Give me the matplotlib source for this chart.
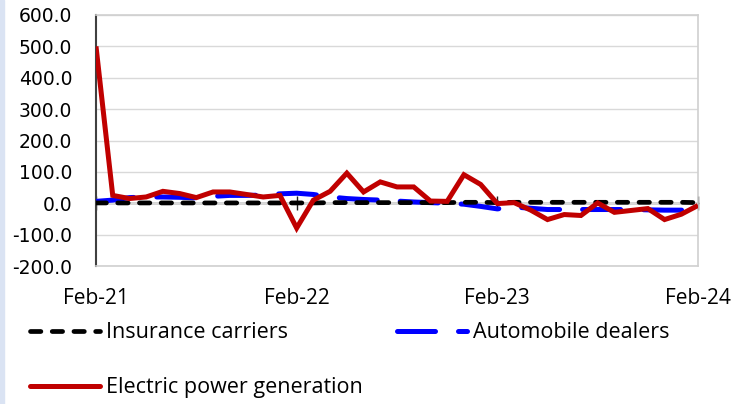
import matplotlib
matplotlib.use("Agg")
import matplotlib.pyplot as plt
from matplotlib.lines import Line2D
import numpy as np

# monthly values, Feb-21 .. Feb-24
months = ["Feb-21", "Mar-21", "Apr-21", "May-21", "Jun-21", "Jul-21", "Aug-21", "Sep-21",
          "Oct-21", "Nov-21", "Dec-21", "Jan-22", "Feb-22", "Mar-22", "Apr-22", "May-22",
          "Jun-22", "Jul-22", "Aug-22", "Sep-22", "Oct-22", "Nov-22", "Dec-22", "Jan-23",
          "Feb-23", "Mar-23", "Apr-23", "May-23", "Jun-23", "Jul-23", "Aug-23", "Sep-23",
          "Oct-23", "Nov-23", "Dec-23", "Jan-24", "Feb-24"]

insurance = [1, 1, 1, 1, 1, 1, 1, 1, 1, 1, 1, 1, 1, 1, 2, 2,
             2, 2, 2, 2, 2, 2, 3, 3, 2, 3, 3, 3, 3, 3, 3, 3,
             3, 3, 3, 3, 2]
auto_dealers = [6, 10, 18, 20, 20, 19, 17, 22, 25, 25, 26, 30, 32, 28, 20, 15,
                12, 10, 7, 4, 2, 0, -3, -10, -18, -12, -16, -20, -20, -20, -20, -20,
                -20, -21, -22, -22, -18]
electric = [500, 25, 15, 20, 38, 31, 18, 36, 36, 28, 20, 25, -79, 10, 38, 96,
            36, 68, 52, 52, 7, 6, 91, 60, -1, 2, -22, -52, -36, -39, 1, -29,
            -23, -17, -52, -35, -7]

tick_pos = [0, 12, 24, 36]
tick_labels = ["Feb-21", "Feb-22", "Feb-23", "Feb-24"]
y_ticks = [-200, -100, 0, 100, 200, 300, 400, 500, 600]

x = np.arange(len(months))

fig = plt.figure(figsize=(7.47, 4.04), dpi=100)
fig.patch.set_facecolor("white")
# light blue strip at left edge of the picture
fig.patches.append(plt.Rectangle((0, 0), 4 / 747, 1, transform=fig.transFigure,
                                 color="#dae3f3", zorder=0))

ax = fig.add_axes([96 / 747, 1 - 266 / 404, (698 - 96) / 747, (266 - 15) / 404])

ins_style = dict(color="black", lw=3.4, linestyle=(0, (2.2, 2.4)), dash_capstyle="round")
auto_style = dict(color="#0000ff", lw=3.6, linestyle=(0, (7.6, 4.6)), dash_capstyle="round")
elec_style = dict(color="#c00000", lw=3.6, solid_capstyle="butt", solid_joinstyle="miter")

ax.plot(x, auto_dealers, zorder=3, **auto_style)
ax.plot(x, insurance, zorder=4, **ins_style)
ax.plot(x, electric, zorder=5, **elec_style)

ax.set_xlim(0, 36)
ax.set_ylim(-200, 600)
ax.set_yticks(y_ticks)
ax.set_yticklabels([f"{v:.1f}" for v in y_ticks], fontsize=13.5, family="DejaVu Sans")
ax.tick_params(axis="y", length=0, pad=17)
ax.grid(axis="y", color="#d9d9d9", lw=1)
ax.set_axisbelow(True)

ax.set_xticks(tick_pos)
ax.set_xticklabels(tick_labels, fontsize=15, family="Open Sans")
ax.tick_params(axis="x", length=0, pad=16)

for side in ("top", "right", "bottom"):
    ax.spines[side].set_color("#d0d0d0")
    ax.spines[side].set_linewidth(1.2)
ax.spines["left"].set_color("#404040")
ax.spines["left"].set_linewidth(1.5)

# horizontal axis line crossing at zero, with cross tick marks
zero_ax = ax.secondary_xaxis(0.25)
zero_ax.set_xticks(tick_pos)
zero_ax.set_xticklabels([])
zero_ax.tick_params(axis="x", direction="inout", length=10, width=1, color="#202020")
zero_ax.spines["bottom"].set_color("#202020")
zero_ax.spines["bottom"].set_linewidth(1)

# legend entries, placed like the Excel layout
h_ins = Line2D([], [], **ins_style)
h_auto = Line2D([], [], **auto_style)
h_elec = Line2D([], [], color="#c00000", lw=3.6, solid_capstyle="round")
entries = [(h_ins, "Insurance carriers", 30, 333),
           (h_auto, "Automobile dealers", 397, 333),
           (h_elec, "Electric power generation", 30, 388)]
for h, lab, px, py in entries:
    fig.legend([h], [lab], loc="center left", bbox_to_anchor=(px / 747, 1 - py / 404),
               frameon=False, borderpad=0, borderaxespad=0, handlelength=3.25,
               handletextpad=0.3, prop={"family": "Open Sans", "size": 15.5})

fig.savefig("out.png", dpi=100)
